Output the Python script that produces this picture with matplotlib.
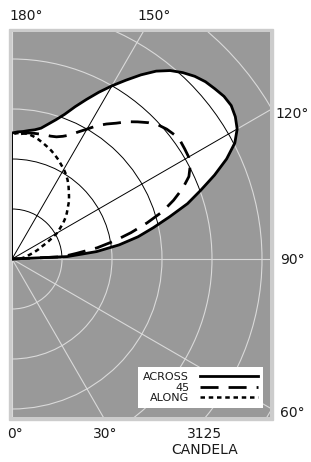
import numpy as np
import matplotlib.pyplot as plt
from matplotlib.patches import Circle, Polygon, Rectangle

# === Data: candela by vertical angle (0 = down, 180 = up), 2.5 deg steps ===
angles = np.arange(90, 180.1, 2.5)
across = [0, 690, 1060, 1350, 1600, 1810, 2040, 2300, 2510, 2740,
          2960, 3140, 3250, 3310, 3345, 3340, 3310, 3280, 3230, 3160,
          3075, 2960, 2810, 2650, 2500, 2350, 2200, 2060, 1925, 1825,
          1745, 1675, 1640, 1620, 1600, 1590, 1575]
diag45 = [0, 625, 810, 1075, 1300, 1525, 1750, 1975, 2150, 2310,
          2440, 2510, 2550, 2560, 2570, 2555, 2525, 2480, 2410, 2325,
          2240, 2140, 2060, 1975, 1875, 1790, 1710, 1660, 1625, 1610,
          1605, 1600, 1595, 1590, 1575, 1560, 1550]
along = [0, 75, 125, 160, 190, 210, 250, 300, 350, 400,
         480, 560, 650, 710, 780, 840, 895, 945, 1005, 1055,
         1105, 1160, 1210, 1255, 1295, 1330, 1370, 1405, 1440, 1470,
         1500, 1530, 1555, 1575, 1580, 1575, 1560]

ring_values = [625, 1250, 1875, 2500, 3125, 3750, 4375]
spoke_angles = [0, 30, 60, 90, 120, 150, 180]
scale_label = "3125"
unit_label = "CANDELA"


def to_xy(theta_deg, cd):
    t = np.radians(np.asarray(theta_deg, dtype=float))
    cd = np.asarray(cd, dtype=float)
    return cd * np.sin(t), -cd * np.cos(t)


W, H = 311, 462
CD_PER_PX = 12.5
GRAY = "#999999"
LIGHT = "#dadada"
TXT = "#1a1a1a"

fig = plt.figure(figsize=(W / 100, H / 100), dpi=100)
fig.add_artist(Rectangle((9 / W, 1 - 420 / H), 264 / W, 391 / H,
                         transform=fig.transFigure, color="#cccccc", zorder=0))

ax = fig.add_axes([12 / W, 1 - 417 / H, 258 / W, 385 / H])
ax.set_facecolor(GRAY)
ax.set_xlim(0, 258 * CD_PER_PX)
ax.set_ylim(-158 * CD_PER_PX, 227 * CD_PER_PX)
ax.set_xticks([])
ax.set_yticks([])
for s in ax.spines.values():
    s.set_visible(False)

# === light grid on gray ===
far = 10000
for r in ring_values:
    ax.add_patch(Circle((0, 0), r, fill=False, ec=LIGHT, lw=0.8, zorder=1))
for a in spoke_angles:
    x, y = to_xy([a, a], [0, far])
    ax.plot(x, y, color=LIGHT, lw=0.8, zorder=1)

# === white area under ACROSS curve ===
ax_x, ax_y = to_xy(angles, across)
area = Polygon(np.column_stack([np.r_[0, ax_x], np.r_[0, ax_y]]),
               closed=True, fc="white", ec="none", zorder=2)
ax.add_patch(area)

# === black grid inside the white area ===
for r in ring_values:
    c = Circle((0, 0), r, fill=False, ec="black", lw=0.7, zorder=3)
    ax.add_patch(c)
    c.set_clip_path(area)
for a in spoke_angles:
    x, y = to_xy([a, a], [0, far])
    ln, = ax.plot(x, y, color="black", lw=0.7, zorder=3)
    ln.set_clip_path(area)

# === curves ===
ax.plot(ax_x, ax_y, color="black", lw=2.0, zorder=4, label="ACROSS")
x, y = to_xy(angles, diag45)
ax.plot(x, y, color="black", lw=2.0, dashes=(6.5, 3.6), zorder=4, label="45")
x, y = to_xy(angles, along)
ax.plot(x, y, color="black", lw=1.8, dashes=(1.8, 1.5), zorder=4, label="ALONG")

leg = ax.legend(loc="lower right", bbox_to_anchor=(0.973, 0.023),
                markerfirst=False, frameon=True, fancybox=False,
                framealpha=1, edgecolor="none", facecolor="white",
                fontsize=8, handlelength=5.2, handletextpad=1.0,
                labelspacing=0.05, borderpad=0.45, borderaxespad=0)
for t in leg.get_texts():
    t.set_color(TXT)
leg.set_zorder(5)


# === angle labels (pixel positions) ===
def label(px, py, s, ha="left", size=10):
    fig.text(px / W, 1 - py / H, s, ha=ha, va="center", fontsize=size, color=TXT)


label(9, 16, "180°")
label(137, 16, "150°")
label(275, 114, "120°")
label(280, 260, "90°")
label(280, 413, "60°")
label(7, 434, "0°")
label(93, 434, "30°")
label(205, 434, scale_label, ha="center")
label(205, 450, unit_label, ha="center")

fig.savefig("out.png", dpi=100)
